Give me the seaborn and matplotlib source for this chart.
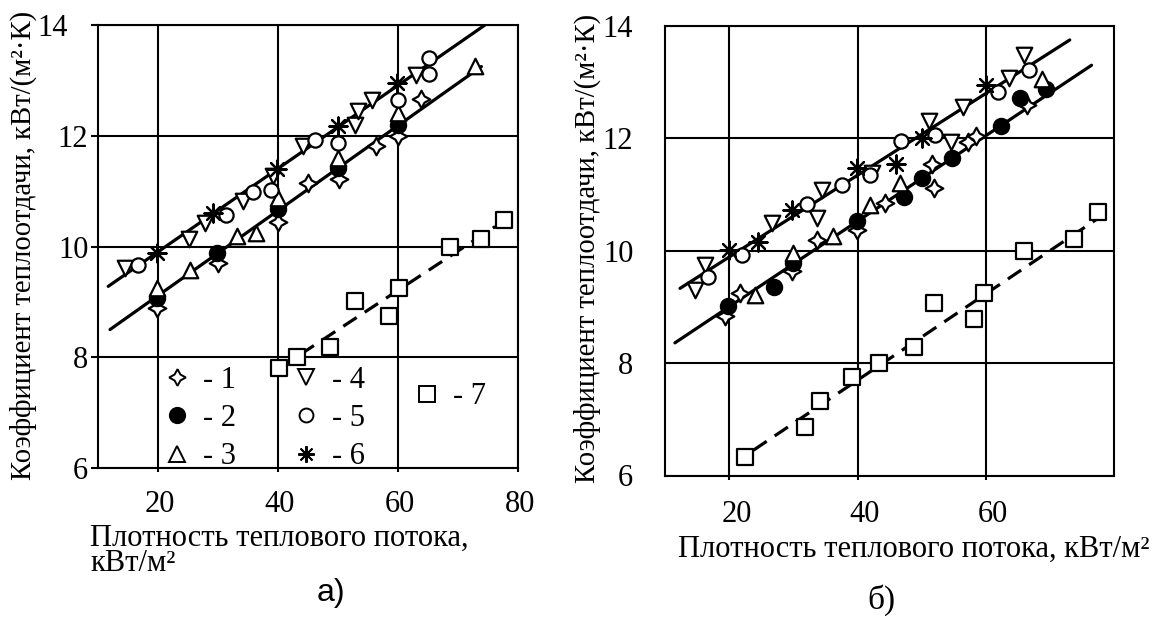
import matplotlib
matplotlib.use("Agg")
import matplotlib.pyplot as plt
import matplotlib.transforms as mtransforms
from matplotlib.lines import Line2D
import seaborn as sns

# ---------------- data: panel а) ----------------
a1_x = [19.9, 30.0, 40.0, 45.0, 50.2, 56.3, 60.0, 63.9]
a1_y = [8.89, 9.70, 10.45, 11.15, 11.21, 11.81, 11.99, 12.66]
a2_x = [19.8, 29.9, 40.0, 50.0, 60.0]
a2_y = [9.07, 9.89, 10.68, 11.42, 12.20]
a3_x = [19.9, 25.3, 33.1, 36.4, 40.0, 50.0, 60.0, 72.8]
a3_y = [9.25, 9.58, 10.19, 10.24, 10.87, 11.60, 12.41, 13.26]
a4_x = [14.5, 25.2, 27.8, 34.1, 39.1, 44.2, 52.8, 53.4, 55.6, 63.0]
a4_y = [9.61, 10.14, 10.42, 10.83, 11.28, 11.81, 12.20, 12.44, 12.65, 13.10]
a5_x = [16.6, 31.3, 35.8, 38.9, 46.2, 50.0, 60.0, 65.2, 65.2]
a5_y = [9.67, 10.57, 10.99, 11.02, 11.93, 11.87, 12.65, 13.41, 13.12]
a6_x = [19.8, 29.2, 39.9, 50.0, 59.9]
a6_y = [9.88, 10.60, 11.40, 12.18, 12.96]
a7_x = [40.2, 43.1, 48.6, 52.9, 58.5, 60.2, 68.6, 73.9, 77.7]
a7_y = [7.80, 8.00, 8.19, 9.02, 8.74, 9.25, 10.00, 10.13, 10.48]
# fitted lines (end points)
a_fit_up_x = [11.7, 74.5]
a_fit_up_y = [9.28, 14.0]
a_fit_lo_x = [12.0, 73.9]
a_fit_lo_y = [8.50, 13.25]
a_fit_7_x = [40.2, 76.2]
a_fit_7_y = [7.80, 10.36]

# ---------------- data: panel б) ----------------
b1_x = [19.3, 21.7, 29.75, 33.65, 39.9, 44.3, 51.6, 51.9, 57.3, 58.4, 66.5]
b1_y = [8.83, 9.24, 9.63, 10.19, 10.36, 10.84, 11.55, 11.11, 11.94, 12.04, 12.59]
b2_x = [19.85, 26.9, 29.9, 39.9, 47.2, 50.1, 54.75, 62.4, 65.4, 69.4]
b2_y = [9.01, 9.36, 9.78, 10.53, 10.96, 11.30, 11.65, 12.22, 12.71, 12.87]
b3_x = [24.0, 29.9, 36.2, 41.9, 46.65, 68.8]
b3_y = [9.21, 9.96, 10.26, 10.81, 11.20, 13.05]
b4_x = [14.6, 16.2, 26.6, 33.65, 34.4, 42.25, 51.1, 54.5, 56.5, 63.6, 65.9]
b4_y = [9.30, 9.75, 10.49, 10.58, 11.08, 11.38, 12.30, 11.94, 12.56, 13.07, 13.48]
b5_x = [16.7, 21.9, 32.1, 37.6, 42.0, 46.8, 52.0, 61.9, 66.7]
b5_y = [9.54, 9.92, 10.83, 11.17, 11.35, 11.95, 12.06, 12.83, 13.21]
b6_x = [20.0, 24.4, 29.75, 39.9, 46.05, 50.1, 60.0]
b6_y = [10.01, 10.15, 10.72, 11.47, 11.55, 12.0, 12.95]
b7_x = [22.45, 31.8, 34.1, 39.1, 43.4, 48.75, 51.9, 58.1, 59.7, 65.9, 73.75, 77.5]
b7_y = [6.33, 6.87, 7.33, 7.76, 8.0, 8.28, 9.07, 8.78, 9.25, 10.0, 10.21, 10.68]
b_fit_up_x = [12.3, 73.1]
b_fit_up_y = [9.33, 13.75]
b_fit_lo_x = [11.5, 76.5]
b_fit_lo_y = [8.36, 13.30]
b_fit_7_x = [23.75, 79.0]
b_fit_7_y = [6.45, 10.69]

series_labels = ["- 1", "- 2", "- 3", "- 4", "- 5", "- 6", "- 7"]
a_xticks = [20, 40, 60, 80]
b_xticks = [20, 40, 60]
yticks = [6, 8, 10, 12, 14]
ylabel = "Коэффициент теплоотдачи, кВт/(м²·К)"
xlabel_a = "Плотность теплового потока,\nкВт/м²"
xlabel_b = "Плотность теплового потока, кВт/м²"

# ---------------- style ----------------
sns.set_theme(style="white")
plt.rcParams["font.family"] = ["Liberation Serif", "DejaVu Serif"]
plt.rcParams["text.color"] = "black"
plt.rcParams["axes.labelcolor"] = "black"
plt.rcParams["xtick.color"] = "black"
plt.rcParams["ytick.color"] = "black"
FS_TICK = 22
FS_LAB = 22
FS_YLAB = 20.6
FS_LEG = 22

STAR4 = (4, 1, 0)
AST = (8, 2, 0)
styles = [
    dict(marker=STAR4, fc="white", s=160, ms=12),
    dict(marker="o", fc="black", s=120, ms=11),
    dict(marker="^", fc="white", s=125, ms=11),
    dict(marker="v", fc="white", s=125, ms=11),
    dict(marker="o", fc="white", s=105, ms=10),
    dict(marker=AST, fc="black", s=170, ms=12),
    dict(marker="s", fc="white", s=120, ms=12),
]

fig = plt.figure(figsize=(11.54, 6.26), dpi=100)
W, H = 1154, 626
axA = fig.add_axes([98 / W, 1 - 468 / H, 420 / W, 443 / H])
axB = fig.add_axes([665.3 / W, 1 - 475.5 / H, 448.7 / W, 449.6 / H])


def draw_panel(ax, pts, fits):
    for (fx, fy, dashed) in fits:
        sns.lineplot(x=fx, y=fy, ax=ax, color="black", lw=2.3,
                     linestyle=(0, (5, 3)) if dashed else "-", zorder=2)
    for (xs, ys), st in zip(pts, styles):
        if st["marker"] == AST:
            sns.scatterplot(x=xs, y=ys, ax=ax, marker=AST, s=st["s"],
                            color="black", linewidth=1.6, zorder=4)
        else:
            sns.scatterplot(x=xs, y=ys, ax=ax, marker=st["marker"], s=st["s"],
                            facecolor=st["fc"], edgecolor="black",
                            linewidth=1.6, zorder=4)
    ax.set_xlim(10, 80)
    ax.set_ylim(6, 14)
    ax.set_yticks(yticks)
    ax.grid(True, color="black", lw=1.5, zorder=1)
    ax.set_axisbelow(True)
    for sp in ax.spines.values():
        sp.set_color("black")
        sp.set_linewidth(1.5)
        sp.set_visible(True)
    ax.set_xlabel("")
    ax.set_ylabel("")


draw_panel(axA,
           [(a1_x, a1_y), (a2_x, a2_y), (a3_x, a3_y), (a4_x, a4_y),
            (a5_x, a5_y), (a6_x, a6_y), (a7_x, a7_y)],
           [(a_fit_up_x, a_fit_up_y, False), (a_fit_lo_x, a_fit_lo_y, False),
            (a_fit_7_x, a_fit_7_y, True)])
draw_panel(axB,
           [(b1_x, b1_y), (b2_x, b2_y), (b3_x, b3_y), (b4_x, b4_y),
            (b5_x, b5_y), (b6_x, b6_y), (b7_x, b7_y)],
           [(b_fit_up_x, b_fit_up_y, False), (b_fit_lo_x, b_fit_lo_y, False),
            (b_fit_7_x, b_fit_7_y, True)])

# ticks panel а)
axA.set_xticks(a_xticks)
axA.tick_params(axis="y", direction="out", length=5, width=1.5, pad=2,
                labelsize=FS_TICK, left=True, colors="black")
axA.tick_params(axis="x", direction="out", length=3, width=1.5, pad=13,
                labelsize=FS_TICK, bottom=True, colors="black")
# ticks panel б)
axB.set_xticks(b_xticks)
axB.tick_params(axis="y", length=0, pad=23, labelsize=FS_TICK, colors="black")
axB.tick_params(axis="x", direction="out", length=3, width=1.5, pad=15,
                labelsize=FS_TICK, bottom=True, colors="black")


def shift(lab, dx_px, dy_px=0):
    lab.set_transform(lab.get_transform() + mtransforms.ScaledTranslation(
        dx_px / 100, dy_px / 100, fig.dpi_scale_trans))


# the "14" label of panel а) sits further left in the original
shift(axA.get_yticklabels()[-1], -20)
for lab in axA.get_xticklabels():
    shift(lab, 2)
for lab in axB.get_xticklabels():
    shift(lab, 7)

# axis labels
axA.set_ylabel(ylabel, fontsize=FS_YLAB, color="black")
axA.yaxis.set_label_coords(-0.146, 0.503)
axB.set_ylabel(ylabel, fontsize=FS_YLAB, color="black")
axB.yaxis.set_label_coords(-0.143, 0.505)
fig.text(90 / W, 1 - 571 / H, xlabel_a, fontsize=FS_LAB, ha="left",
         va="baseline", linespacing=0.82, multialignment="left")
fig.text(678 / W, 1 - 557 / H, xlabel_b, fontsize=FS_LAB, ha="left", va="baseline")
fig.text(331 / W, 1 - 593 / H, "а)", fontsize=23, ha="center", va="center",
         family=["Liberation Sans", "DejaVu Sans"])
fig.text(881 / W, 1 - 600 / H, "б)", fontsize=24, ha="center", va="center")

# legend in panel а)
handles = []
for st in styles:
    if st["marker"] == AST:
        handles.append(Line2D([], [], ls="none", marker=AST, color="black",
                              markersize=st["ms"], markeredgewidth=1.4))
    else:
        handles.append(Line2D([], [], ls="none", marker=st["marker"],
                              markerfacecolor=st["fc"], markeredgecolor="black",
                              markersize=st["ms"], markeredgewidth=1.4))


def ax_frac(px, py):
    return ((px - 98) / 420, (468 - py) / 443)


leg1 = axA.legend(handles[:6], series_labels[:6], ncol=2, frameon=False,
                  fontsize=FS_LEG, loc="upper left",
                  bbox_to_anchor=ax_frac(166.5, 366),
                  handlelength=0.7, handletextpad=0.5, labelspacing=0.3,
                  columnspacing=1.95, borderaxespad=0, borderpad=0,
                  labelcolor="black")
axA.add_artist(leg1)
axA.legend(handles[6:], series_labels[6:], frameon=False, fontsize=FS_LEG,
           loc="center left", bbox_to_anchor=ax_frac(416.5, 397),
           handlelength=0.7, handletextpad=0.5, borderaxespad=0, borderpad=0,
           labelcolor="black")

fig.savefig("out.png", dpi=100, facecolor="white")
